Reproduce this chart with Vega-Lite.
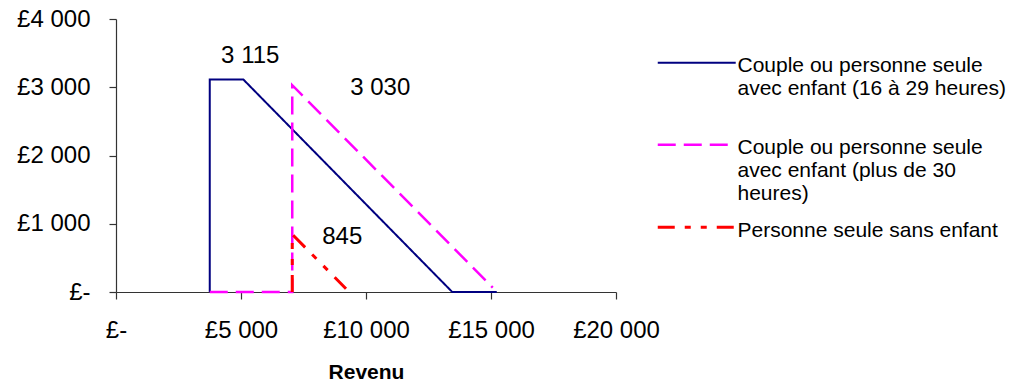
{
  "$schema": "https://vega.github.io/schema/vega-lite/v6.json",
  "width": 500,
  "height": 273,
  "autosize": {"type": "none"},
  "padding": {"left": 116, "top": 19, "right": 400, "bottom": 93},
  "background": "white",
  "config": {
    "view": {"stroke": null},
    "font": "Liberation Sans",
    "locale": {
      "number": {"decimal": ",", "thousands": " ", "grouping": [3], "currency": ["£", ""]}
    },
    "axis": {
      "grid": false,
      "domainColor": "#333333",
      "domainWidth": 1.2,
      "tickColor": "#333333",
      "tickWidth": 1.2,
      "tickSize": 7,
      "labelFont": "Liberation Sans",
      "labelFontSize": 24,
      "labelColor": "#000000",
      "labelPadding": 19,
      "labelOverlap": false,
      "labelFlush": false,
      "titleFont": "Liberation Sans",
      "titleColor": "#000000"
    }
  },
  "datasets": {
    "courbes": [
      {"serie": "Couple ou personne seule avec enfant (16 à 29 heures)", "revenu": 3750, "credit": 0},
      {"serie": "Couple ou personne seule avec enfant (16 à 29 heures)", "revenu": 3750, "credit": 3115},
      {"serie": "Couple ou personne seule avec enfant (16 à 29 heures)", "revenu": 5090, "credit": 3115},
      {"serie": "Couple ou personne seule avec enfant (16 à 29 heures)", "revenu": 13450, "credit": 0},
      {"serie": "Couple ou personne seule avec enfant (16 à 29 heures)", "revenu": 15230, "credit": 0},
      {"serie": "Couple ou personne seule avec enfant (plus de 30 heures)", "revenu": 3750, "credit": 0},
      {"serie": "Couple ou personne seule avec enfant (plus de 30 heures)", "revenu": 7050, "credit": 0},
      {"serie": "Couple ou personne seule avec enfant (plus de 30 heures)", "revenu": 7050, "credit": 3030},
      {"serie": "Couple ou personne seule avec enfant (plus de 30 heures)", "revenu": 15070, "credit": 65},
      {"serie": "Personne seule sans enfant", "revenu": 7050, "credit": 0},
      {"serie": "Personne seule sans enfant", "revenu": 7050, "credit": 845},
      {"serie": "Personne seule sans enfant", "revenu": 9200, "credit": 48}
    ],
    "pics": [
      {"serie": "Couple ou personne seule avec enfant (16 à 29 heures)", "revenu": 5090, "credit": 3115},
      {"serie": "Couple ou personne seule avec enfant (plus de 30 heures)", "revenu": 7050, "credit": 3030},
      {"serie": "Personne seule sans enfant", "revenu": 7050, "credit": 845}
    ]
  },
  "layer": [
    {
      "data": {"name": "courbes"},
      "mark": {"type": "line", "strokeCap": "butt", "strokeJoin": "miter"},
      "encoding": {
        "x": {
          "field": "revenu",
          "type": "quantitative",
          "scale": {"domain": [0, 20000], "nice": false, "zero": true},
          "axis": {
            "values": [0, 5000, 10000, 15000, 20000],
            "labelExpr": "datum.value == 0 ? '£-' : '£' + format(datum.value, ',')",
            "title": "Revenu",
            "titleFontSize": 21,
            "titleFontWeight": "bold",
            "titlePadding": 19
          }
        },
        "y": {
          "field": "credit",
          "type": "quantitative",
          "scale": {"domain": [0, 4000], "nice": false},
          "axis": {
            "values": [0, 1000, 2000, 3000, 4000],
            "labelExpr": "datum.value == 0 ? '£-' : '£' + format(datum.value, ',')",
            "title": null
          }
        },
        "color": {
          "field": "serie",
          "type": "nominal",
          "scale": {
            "domain": [
              "Couple ou personne seule avec enfant (16 à 29 heures)",
              "Couple ou personne seule avec enfant (plus de 30 heures)",
              "Personne seule sans enfant"
            ],
            "range": ["#000080", "#FF00FF", "#FF0000"]
          },
          "legend": {
            "title": null,
            "orient": "none",
            "legendX": 540,
            "legendY": 25,
            "padding": 0,
            "labelFont": "Liberation Sans",
            "labelFontSize": 21,
            "labelColor": "#000000",
            "labelLimit": 0,
            "labelBaseline": "top",
            "labelOffset": 58.5,
            "symbolType": "M-1,0.8H7",
            "symbolSize": 380,
            "symbolStrokeWidth": 3,
            "gridAlign": "all",
            "rowPadding": 4,
            "labelExpr": "datum.label == 'Couple ou personne seule avec enfant (16 à 29 heures)' ? ['Couple ou personne seule', 'avec enfant (16 à 29 heures)'] : datum.label == 'Couple ou personne seule avec enfant (plus de 30 heures)' ? ['Couple ou personne seule', 'avec enfant (plus de 30', 'heures)'] : datum.label"
          }
        },
        "strokeDash": {
          "field": "serie",
          "type": "nominal",
          "scale": {
            "domain": [
              "Couple ou personne seule avec enfant (16 à 29 heures)",
              "Couple ou personne seule avec enfant (plus de 30 heures)",
              "Personne seule sans enfant"
            ],
            "range": [[1, 0], [18, 8], [17, 10, 6, 10, 6, 10]]
          }
        },
        "strokeWidth": {
          "field": "serie",
          "type": "nominal",
          "scale": {
            "domain": [
              "Couple ou personne seule avec enfant (16 à 29 heures)",
              "Couple ou personne seule avec enfant (plus de 30 heures)",
              "Personne seule sans enfant"
            ],
            "range": [2, 3, 3]
          },
          "legend": null
        },
        "order": {"value": null}
      }
    },
    {
      "data": {"name": "pics"},
      "transform": [{"filter": "datum.serie == 'Couple ou personne seule avec enfant (16 à 29 heures)'"}],
      "mark": {"type": "text", "align": "center", "baseline": "alphabetic", "dx": 7, "dy": -16, "fontSize": 24, "font": "Liberation Sans", "color": "#000000"},
      "encoding": {
        "x": {"field": "revenu", "type": "quantitative"},
        "y": {"field": "credit", "type": "quantitative"},
        "text": {"field": "credit", "type": "quantitative", "format": ","}
      }
    },
    {
      "data": {"name": "pics"},
      "transform": [{"filter": "datum.serie == 'Couple ou personne seule avec enfant (plus de 30 heures)'"}],
      "mark": {"type": "text", "align": "left", "baseline": "alphabetic", "dx": 58, "dy": 10, "fontSize": 24, "font": "Liberation Sans", "color": "#000000"},
      "encoding": {
        "x": {"field": "revenu", "type": "quantitative"},
        "y": {"field": "credit", "type": "quantitative"},
        "text": {"field": "credit", "type": "quantitative", "format": ","}
      }
    },
    {
      "data": {"name": "pics"},
      "transform": [{"filter": "datum.serie == 'Personne seule sans enfant'"}],
      "mark": {"type": "text", "align": "left", "baseline": "alphabetic", "dx": 30, "dy": 10, "fontSize": 24, "font": "Liberation Sans", "color": "#000000"},
      "encoding": {
        "x": {"field": "revenu", "type": "quantitative"},
        "y": {"field": "credit", "type": "quantitative"},
        "text": {"field": "credit", "type": "quantitative", "format": ","}
      }
    }
  ]
}
